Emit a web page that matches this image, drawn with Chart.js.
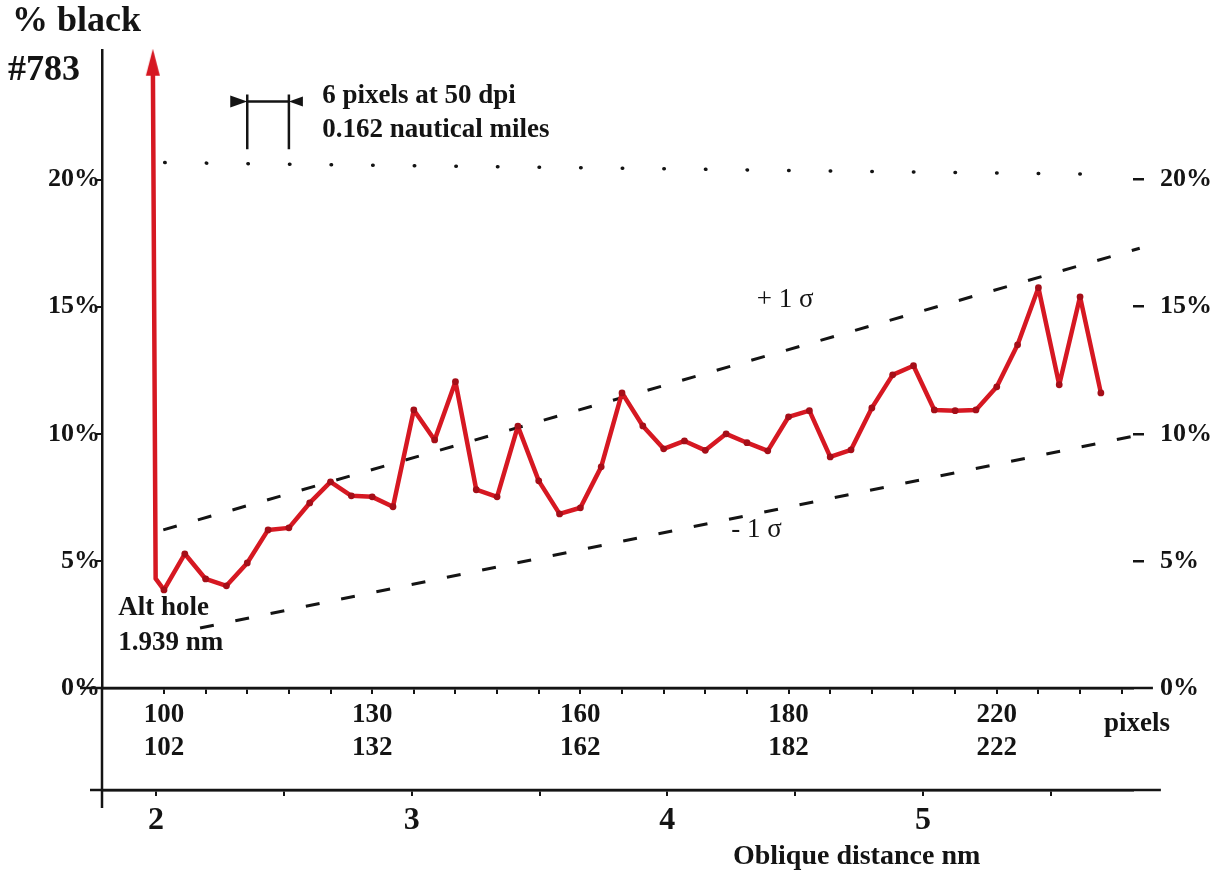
<!DOCTYPE html>
<html>
<head>
<meta charset="utf-8">
<title>% black #783</title>
<script src="https://cdn.jsdelivr.net/npm/chart.js@4.4.0/dist/chart.umd.min.js"></script>
<style>
  html, body { margin: 0; padding: 0; background: #fff; }
  #wrap { width: 1228px; height: 873px; }
</style>
</head>
<body>
<div id="wrap"><canvas id="myChart" width="1228" height="873"></canvas></div>
<script>
// profile samples, x in scan pixels, y in % black
var pixelPos = [100, 103, 106, 109, 112, 115, 118, 121, 124, 127, 130, 133, 136, 139, 142, 145,
                148, 151, 154, 157, 160, 163, 166, 169, 172, 175, 178, 181, 184, 187, 190, 193,
                196, 199, 202, 205, 208, 211, 214, 217, 220, 223, 226, 229, 232, 235];
var blackPct = [3.86, 5.28, 4.29, 4.02, 4.92, 6.22, 6.30, 7.28, 8.11, 7.56, 7.52, 7.13, 10.94, 9.76, 12.05, 7.80,
                7.52, 10.3, 8.15, 6.85, 7.09, 8.70, 11.61, 10.31, 9.41, 9.72, 9.35, 10.0, 9.65, 9.33, 10.67, 10.91,
                9.09, 9.37, 11.02, 12.32, 12.68, 10.94, 10.91, 10.94, 11.85, 13.5, 15.75, 11.93, 15.39, 11.61];

// the off-scale spike at the altitude hole
var spikeX = [98.4, 98.8, 100];
var spikeY = [24.6, 4.3, 3.86];

// +1 sigma / -1 sigma bands and the dotted 20% line
var upperX = [99.9, 240.6];
var upperY = [6.22, 17.3];
var lowerX = [105.2, 240.6];
var lowerY = [2.36, 9.96];
var dotX = [100.1, 237.8];
var dotY = [20.67, 20.2];

var pctTicks = [0, 5, 10, 15, 20];
var pixelTicks = [100, 106, 112, 118, 124, 130, 136, 142, 148, 154, 160, 166, 172, 178, 184, 190,
                  196, 202, 208, 214, 220, 226, 232, 238];
var pixelLabels = {
  100: ['100', '102'],
  130: ['130', '132'],
  160: ['160', '162'],
  190: ['180', '182'],
  220: ['220', '222']
};
var nmTicks = [2, 2.5, 3, 3.5, 4, 4.5, 5, 5.5];

var red = 'rgb(214, 24, 34)';
var darkRed = 'rgb(165, 14, 24)';
var ink = '#141414';
var serif = 'Liberation Serif';

function pts(xs, ys) {
  return xs.map(function (v, i) { return { x: v, y: ys[i] }; });
}

// narrow arrow head for the spike
var arrowHead = document.createElement('canvas');
arrowHead.width = 16;
arrowHead.height = 28;
var ac = arrowHead.getContext('2d');
ac.fillStyle = red;
ac.beginPath();
ac.moveTo(8, 0);
ac.lineTo(15, 27);
ac.lineTo(1, 27);
ac.closePath();
ac.fill();

var notes = {
  id: 'notes',
  afterDraw: function (chart) {
    var c = chart.ctx;
    var a = chart.chartArea;
    var x = chart.scales.x, y = chart.scales.y, nm = chart.scales.nm;
    c.save();
    c.strokeStyle = ink;
    c.fillStyle = ink;
    c.lineWidth = 2.5;

    // axis extensions
    c.beginPath();
    c.moveTo(a.left, a.bottom);
    c.lineTo(a.left, nm.top + 18);
    c.moveTo(a.left - 8, a.bottom);
    c.lineTo(x.getPixelForValue(242.5), a.bottom);
    c.moveTo(a.left - 12, nm.top);
    c.lineTo(nm.getPixelForValue(5.93), nm.top);
    c.moveTo(a.left - 22, a.bottom);
    c.lineTo(a.left, a.bottom);
    c.stroke();

    // 6 pixel scale bar
    var x1 = x.getPixelForValue(112), x2 = x.getPixelForValue(118);
    var by = y.getPixelForValue(23.07);
    c.beginPath();
    c.moveTo(x1, y.getPixelForValue(23.35));
    c.lineTo(x1, y.getPixelForValue(21.2));
    c.moveTo(x2, y.getPixelForValue(23.35));
    c.lineTo(x2, y.getPixelForValue(21.2));
    c.moveTo(x1, by);
    c.lineTo(x2, by);
    c.stroke();
    c.beginPath();
    c.moveTo(x1, by);
    c.lineTo(x1 - 17, by - 6);
    c.lineTo(x1 - 17, by + 6);
    c.closePath();
    c.moveTo(x2, by);
    c.lineTo(x2 + 14, by - 5);
    c.lineTo(x2 + 14, by + 5);
    c.closePath();
    c.fill();

    c.textBaseline = 'middle';
    c.textAlign = 'left';
    c.font = 'bold 36px "' + serif + '"';
    c.fillText('% black', a.left - 90, a.top - 28);
    c.fillText('#783', a.left - 94, a.top + 21);

    c.font = 'bold 27px "' + serif + '"';
    c.fillText('6 pixels at 50 dpi', x.getPixelForValue(122.8), y.getPixelForValue(23.27));
    c.fillText('0.162 nautical miles', x.getPixelForValue(122.8), y.getPixelForValue(21.97));
    c.fillText('Alt hole', x.getPixelForValue(93.4), y.getPixelForValue(3.15));
    c.fillText('1.939 nm', x.getPixelForValue(93.4), y.getPixelForValue(1.77));

    c.textAlign = 'center';
    c.fillText('pixels', x.getPixelForValue(240.2), x.top + 36);
    c.font = 'bold 28px "' + serif + '"';
    c.fillText('Oblique distance nm', nm.getPixelForValue(4.74), nm.top + 67);

    c.font = '27px "' + serif + '"';
    c.fillText('+ 1 \u03c3', x.getPixelForValue(189.5), y.getPixelForValue(15.28));
    c.fillText('- 1 \u03c3', x.getPixelForValue(185.4), y.getPixelForValue(6.22));
    c.restore();
  }
};

var ctx = document.getElementById('myChart').getContext('2d');
var myChart = new Chart(ctx, {
  type: 'line',
  data: {
    datasets: [{
      label: '% black',
      data: pts(pixelPos, blackPct),
      borderColor: red,
      borderWidth: 4.5,
      borderJoinStyle: 'round',
      borderCapStyle: 'round',
      pointRadius: 3.4,
      pointBackgroundColor: darkRed,
      pointBorderWidth: 0,
      tension: 0
    }, {
      label: 'spike',
      data: pts(spikeX, spikeY),
      borderColor: red,
      borderWidth: 4.5,
      borderJoinStyle: 'round',
      pointStyle: function (c) { return c.dataIndex === 0 ? arrowHead : 'circle'; },
      pointRadius: [10, 0, 0],
      clip: false
    }, {
      label: '+1 sigma',
      data: pts(upperX, upperY),
      borderColor: ink,
      borderWidth: 3,
      borderDash: [14, 22],
      pointRadius: 0,
      clip: false
    }, {
      label: '-1 sigma',
      data: pts(lowerX, lowerY),
      borderColor: ink,
      borderWidth: 3,
      borderDash: [14, 22],
      pointRadius: 0,
      clip: false
    }, {
      label: '20% dots',
      data: pts(dotX, dotY),
      borderColor: ink,
      borderWidth: 3.5,
      borderCapStyle: 'round',
      borderDash: [0.5, 41.1],
      pointRadius: 0,
      clip: false
    }]
  },
  options: {
    responsive: false,
    animation: false,
    layout: { padding: { top: 50, left: 0, right: 0, bottom: 0 } },
    plugins: {
      legend: { display: false },
      tooltip: { enabled: false }
    },
    scales: {
      x: {
        type: 'linear',
        position: 'bottom',
        weight: 0,
        min: 91.07,
        max: 239.63,
        afterFit: function (s) { s.height = 102; },
        afterBuildTicks: function (s) { s.ticks = pixelTicks.map(function (v) { return { value: v }; }); },
        border: { display: true, color: ink, width: 2.5 },
        grid: { drawOnChartArea: false, color: ink, lineWidth: 2, tickLength: 6 },
        ticks: {
          autoSkip: false,
          maxRotation: 0,
          padding: 5,
          color: ink,
          font: { family: serif, size: 27, weight: 'bold', lineHeight: 1.2 },
          callback: function (v) { return pixelLabels[v] || ''; }
        }
      },
      nm: {
        type: 'linear',
        position: 'bottom',
        weight: 1,
        min: 1.789,
        max: 5.821,
        afterFit: function (s) { s.height = 83; },
        afterBuildTicks: function (s) { s.ticks = nmTicks.map(function (v) { return { value: v }; }); },
        border: { display: true, color: ink, width: 2.5 },
        grid: { drawOnChartArea: false, color: ink, lineWidth: 2, tickLength: 6 },
        ticks: {
          autoSkip: false,
          maxRotation: 0,
          padding: 6,
          color: ink,
          font: { family: serif, size: 32, weight: 'bold' },
          callback: function (v) { return v % 1 === 0 ? String(v) : ''; }
        }
      },
      y: {
        position: 'left',
        min: 0,
        max: 25.1,
        afterFit: function (s) { s.width = 102; },
        afterBuildTicks: function (s) { s.ticks = pctTicks.map(function (v) { return { value: v }; }); },
        border: { display: true, color: ink, width: 2.5 },
        grid: { drawOnChartArea: false, color: ink, lineWidth: 2, tickLength: 6 },
        ticks: {
          padding: -4,
          color: ink,
          font: { family: serif, size: 26, weight: 'bold' },
          callback: function (v) { return v + '%'; }
        }
      },
      yr: {
        position: 'right',
        min: 0,
        max: 25.1,
        afterFit: function (s) { s.width = 95; },
        afterBuildTicks: function (s) { s.ticks = pctTicks.map(function (v) { return { value: v }; }); },
        border: { display: false },
        grid: {
          drawOnChartArea: false,
          lineWidth: 2.5,
          tickLength: 11,
          tickColor: function (c) { return c.tick && c.tick.value === 0 ? 'rgba(0,0,0,0)' : ink; }
        },
        ticks: {
          padding: 16,
          color: ink,
          font: { family: serif, size: 26, weight: 'bold' },
          callback: function (v) { return v + '%'; }
        }
      }
    }
  },
  plugins: [notes]
});
</script>
</body>
</html>
